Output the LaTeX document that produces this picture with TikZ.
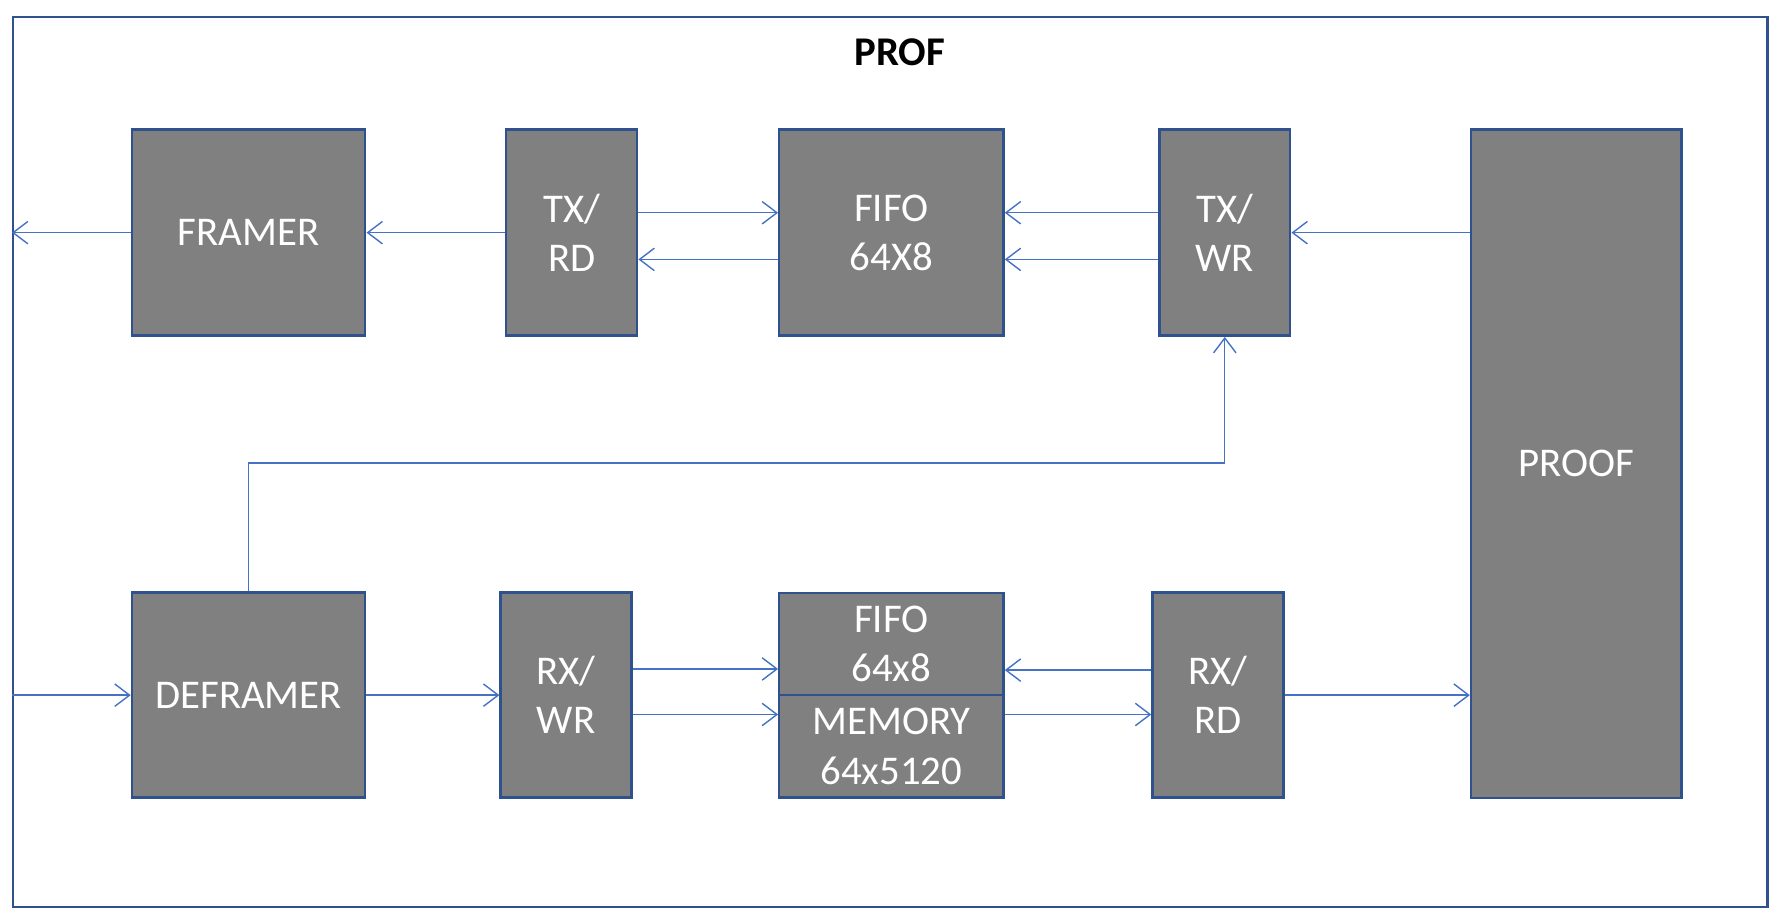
\documentclass[tikz,border=0pt]{standalone}
\usepackage{fontspec}
\setmainfont{Carlito}
\usepackage{xcolor}
\usepackage{tikz}
\usetikzlibrary{arrows.meta}
\definecolor{boxblue}{HTML}{2F528F}
\definecolor{linkblue}{HTML}{4472C4}

\begin{document}
\begin{tikzpicture}[x=0.01cm, y=-0.01cm,
        every node/.style={font=\fontsize{10.2}{12.3}\selectfont, align=center},
        block/.style={draw=boxblue, line width=0.6pt, fill=gray, text=white, inner sep=0pt, minimum height=1.81cm},
        link/.style={draw=linkblue, line width=0.35pt, -{Straight Barb[length=3.7pt,width=5.6pt]}}]
            \useasboundingbox (0,0) rectangle (1568,810);
            
            % Outer frame
            \node[draw=boxblue, line width=0.6pt, minimum width=15.41cm, minimum height=7.82cm, inner sep=0pt] (prof) at (782.5,406) {};
            \node[font=\fontsize{10.2}{12.3}\selectfont\bfseries] (title) at (791,46) {PROF};
            
            % Transmit path
            \node[block, minimum width=2.05cm] (framer) at (218.5,204.5) {FRAMER};
            \node[block, minimum width=1.15cm] (txrd) at (502.5,204.5) {TX/\\RD};
            \node[block, minimum width=1.97cm] (fifotx) at (783.5,204.5) {FIFO\\64X8};
            \node[block, minimum width=1.15cm] (txwr) at (1076.5,204.5) {TX/\\WR};
            \node[block, minimum width=1.85cm, minimum height=5.87cm] (proof) at (1385.5,407.5) {PROOF};
            
            % Receive path
            \node[block, minimum width=2.05cm, minimum height=1.80cm] (deframer) at (218.5,611) {DEFRAMER};
            \node[block, minimum width=1.15cm, minimum height=1.80cm] (rxwr) at (497.5,611) {RX/\\WR};
            \node[block, minimum width=1.97cm, minimum height=0.90cm] (fiforx) at (783.5,566) {FIFO\\64x8};
            \node[block, minimum width=1.97cm, minimum height=0.90cm] (memory) at (783.5,656) {MEMORY\\64x5120};
            \node[block, minimum width=1.15cm, minimum height=1.80cm] (rxrd) at (1070.5,611) {RX/\\RD};
            
            % Transmit links
            \draw[link] (framer.west) -- (prof.west |- framer.west);
            \draw[link] (txrd.west) -- (framer.east);
            \draw[link] ([yshift=0.175cm]txrd.east) -- ([yshift=0.175cm]fifotx.west);
            \draw[link] ([yshift=-0.235cm]fifotx.west) -- ([yshift=-0.235cm]txrd.east);
            \draw[link] ([yshift=0.175cm]txwr.west) -- ([yshift=0.175cm]fifotx.east);
            \draw[link] ([yshift=-0.235cm]txwr.west) -- ([yshift=-0.235cm]fifotx.east);
            \draw[link] (proof.west |- txwr.east) -- (txwr.east);
            
            % Deframer to TX/WR
            \draw[link] (deframer.north) -- ++(0,-113) -| (txwr.south);
            
            % Receive links
            \draw[link] (prof.west |- deframer.west) -- (deframer.west);
            \draw[link] (deframer.east) -- (rxwr.west);
            \draw[link] ([yshift=0.23cm]rxwr.east) -- ([yshift=0.23cm]rxwr.east -| fiforx.west);
            \draw[link] ([yshift=-0.17cm]rxwr.east) -- ([yshift=-0.17cm]rxwr.east -| memory.west);
            \draw[link] ([yshift=0.22cm]rxrd.west) -- ([yshift=0.22cm]rxrd.west -| fiforx.east);
            \draw[link] ([yshift=-0.17cm]rxrd.west -| memory.east) -- ([yshift=-0.17cm]rxrd.west);
            \draw[link] (rxrd.east) -- (proof.west |- rxrd.east);
            
        \end{tikzpicture}
\end{document}
